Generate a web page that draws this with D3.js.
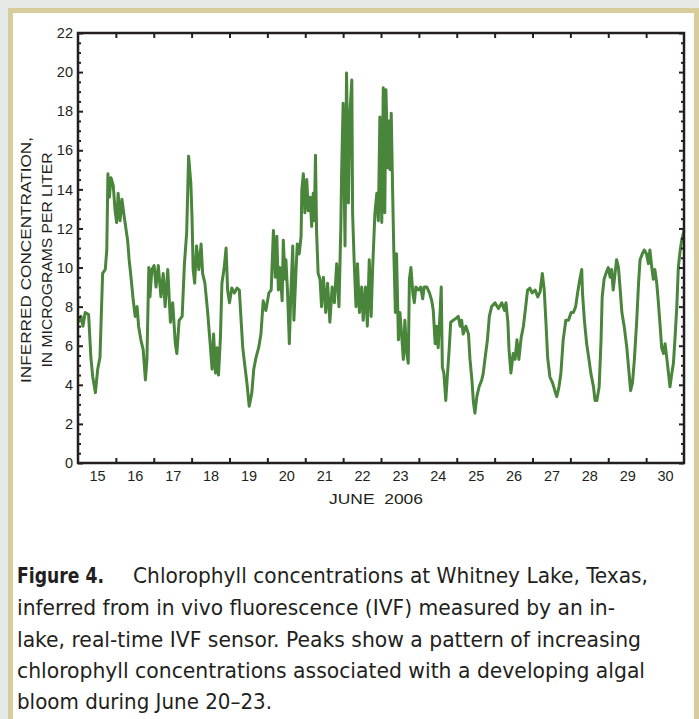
<!DOCTYPE html>
<html>
<head>
<meta charset="utf-8">
<script src="https://cdn.jsdelivr.net/npm/d3@7"></script>
<style>
  html, body { margin: 0; padding: 0; background: #e5eae6; }
  svg { display: block; }
</style>
</head>
<body>
<div id="viewPanel"></div>
<script>
// June 2006 day (decimal, 15.0 = June 15 00:00) and chlorophyll, in micrograms per liter
const days = [
  15.02, 15.08, 15.13, 15.19, 15.28, 15.34, 15.39, 15.46, 15.52, 15.58, 15.65, 15.72, 15.76, 15.79, 15.83, 15.87,
  15.93, 15.98, 16.02, 16.06, 16.11, 16.16, 16.22, 16.31, 16.35, 16.40, 16.46, 16.51, 16.56, 16.60, 16.66, 16.72,
  16.78, 16.82, 16.87, 16.90, 16.95, 17.01, 17.06, 17.12, 17.19, 17.25, 17.30, 17.37, 17.44, 17.50, 17.57, 17.61,
  17.67, 17.75, 17.81, 17.87, 17.92, 17.98, 18.01, 18.04, 18.08, 18.13, 18.19, 18.25, 18.29, 18.35, 18.42, 18.49,
  18.54, 18.58, 18.63, 18.67, 18.71, 18.76, 18.80, 18.86, 18.91, 18.95, 19.00, 19.06, 19.13, 19.20, 19.26, 19.30,
  19.35, 19.41, 19.46, 19.52, 19.59, 19.64, 19.70, 19.77, 19.83, 19.89, 19.96, 20.04, 20.10, 20.16, 20.21, 20.25,
  20.29, 20.33, 20.39, 20.42, 20.47, 20.49, 20.53, 20.58, 20.62, 20.67, 20.70, 20.76, 20.79, 20.84, 20.89, 20.91,
  20.95, 20.99, 21.04, 21.08, 21.13, 21.17, 21.21, 21.24, 21.27, 21.30, 21.34, 21.39, 21.43, 21.48, 21.54, 21.59,
  21.65, 21.71, 21.77, 21.83, 21.89, 21.94, 21.96, 22.00, 22.05, 22.09, 22.14, 22.18, 22.23, 22.25, 22.29, 22.34,
  22.38, 22.43, 22.49, 22.53, 22.59, 22.64, 22.69, 22.74, 22.78, 22.84, 22.89, 22.93, 22.97, 23.02, 23.06, 23.10,
  23.13, 23.18, 23.21, 23.24, 23.27, 23.31, 23.34, 23.38, 23.41, 23.46, 23.50, 23.55, 23.59, 23.63, 23.68, 23.72,
  23.75, 23.79, 23.84, 23.88, 23.92, 23.99, 24.05, 24.10, 24.14, 24.21, 24.28, 24.34, 24.38, 24.43, 24.47, 24.51,
  24.56, 24.59, 24.62, 24.66, 24.71, 24.75, 24.80, 24.84, 24.91, 24.98, 25.04, 25.09, 25.13, 25.17, 25.24, 25.31,
  25.35, 25.40, 25.44, 25.48, 25.53, 25.59, 25.66, 25.70, 25.75, 25.81, 25.86, 25.92, 26.01, 26.10, 26.19, 26.26,
  26.30, 26.35, 26.38, 26.43, 26.49, 26.54, 26.59, 26.64, 26.70, 26.76, 26.82, 26.87, 26.93, 26.99, 27.07, 27.14,
  27.20, 27.26, 27.31, 27.36, 27.40, 27.46, 27.53, 27.59, 27.64, 27.70, 27.75, 27.81, 27.88, 27.95, 28.02, 28.08,
  28.14, 28.19, 28.25, 28.30, 28.32, 28.37, 28.43, 28.49, 28.54, 28.61, 28.65, 28.70, 28.76, 28.81, 28.84, 28.89,
  28.94, 29.00, 29.05, 29.09, 29.13, 29.18, 29.22, 29.27, 29.31, 29.36, 29.42, 29.49, 29.55, 29.59, 29.64, 29.69,
  29.75, 29.80, 29.84, 29.90, 29.95, 30.01, 30.06, 30.10, 30.15, 30.19, 30.23, 30.28, 30.32, 30.37, 30.41, 30.46,
  30.50, 30.55, 30.59, 30.63, 30.68, 30.72, 30.76, 30.81, 30.85, 30.90, 30.94, 31.00
];
const chl = [
  7.2, 7.5, 7.0, 7.7, 7.6, 5.4, 4.4, 3.6, 4.8, 5.4, 9.7, 9.9, 10.9, 14.8, 13.6, 14.6,
  14.2, 12.9, 12.3, 13.8, 12.4, 13.5, 12.6, 11.4, 10.4, 9.5, 8.3, 7.5, 8.0, 7.0, 6.3, 5.8,
  4.25, 5.3, 10.0, 8.5, 9.9, 10.1, 9.0, 10.1, 8.5, 9.7, 8.0, 9.9, 7.2, 8.2, 6.1, 5.6,
  7.3, 7.5, 10.2, 11.8, 15.7, 14.3, 12.6, 9.9, 9.2, 11.1, 9.9, 11.2, 9.7, 9.2, 7.8, 6.1,
  4.8, 6.6, 4.6, 5.9, 4.5, 6.4, 9.2, 10.0, 11.0, 8.85, 8.2, 8.95, 8.7, 8.95, 8.85, 7.5,
  5.9, 4.9, 4.1, 2.9, 3.6, 4.8, 5.4, 5.9, 6.6, 8.3, 7.8, 8.7, 8.85, 11.9, 9.5, 11.6,
  8.85, 10.0, 8.3, 11.4, 9.4, 10.4, 8.85, 6.1, 8.7, 11.1, 7.3, 10.0, 11.2, 10.7, 11.6, 14.0,
  14.8, 12.8, 14.5, 12.9, 13.6, 12.1, 13.8, 12.4, 15.75, 11.8, 9.7, 9.4, 8.0, 9.5, 7.7, 9.2,
  7.2, 9.0, 8.2, 10.2, 8.0, 12.1, 14.8, 18.4, 11.1, 19.95, 13.3, 17.9, 19.6, 12.8, 10.4, 8.0,
  10.2, 7.7, 9.0, 7.3, 9.0, 7.0, 10.4, 7.5, 10.0, 12.8, 13.8, 12.4, 17.7, 12.3, 19.2, 12.8,
  19.1, 15.1, 17.5, 15.0, 17.9, 13.6, 10.7, 7.7, 10.7, 6.3, 7.7, 6.4, 5.3, 7.3, 5.6, 5.1,
  9.4, 10.0, 8.7, 8.2, 9.0, 8.85, 9.0, 8.4, 9.0, 9.0, 8.7, 8.3, 7.8, 6.1, 7.0, 5.9,
  7.7, 9.0, 4.9, 4.6, 3.2, 4.4, 5.8, 7.2, 7.3, 7.4, 7.5, 7.0, 7.3, 6.6, 7.0, 6.6,
  5.3, 4.25, 3.1, 2.55, 3.4, 3.9, 4.25, 4.6, 5.4, 6.3, 7.5, 8.0, 8.2, 7.9, 8.2, 7.8,
  8.2, 7.2, 5.8, 4.6, 5.6, 5.3, 6.3, 5.3, 6.4, 7.0, 8.0, 8.85, 8.95, 8.7, 8.85, 8.5,
  8.75, 9.7, 8.85, 7.0, 5.4, 4.4, 4.1, 3.7, 3.4, 3.9, 4.6, 6.3, 7.3, 7.3, 7.7, 7.7,
  8.0, 8.7, 9.4, 9.9, 8.7, 7.3, 6.1, 5.3, 4.6, 3.9, 3.2, 3.2, 3.9, 6.3, 8.5, 9.4,
  9.7, 10.0, 9.5, 9.9, 8.85, 9.7, 10.4, 10.0, 9.0, 7.7, 7.0, 5.9, 4.6, 3.7, 4.1, 5.3,
  7.2, 9.2, 10.4, 10.7, 10.9, 10.7, 10.2, 10.9, 10.0, 9.4, 9.9, 9.2, 8.3, 7.0, 5.9, 5.6,
  6.1, 5.3, 4.6, 3.9, 4.6, 5.1, 6.3, 8.0, 10.0, 10.9, 11.4, 11.9
];
const dayTicks = [16, 17, 18, 19, 20, 21, 22, 23, 24, 25, 26, 27, 28, 29, 30];
const dayLabels = ["15", "16", "17", "18", "19", "20", "21", "22", "23", "24", "25", "26", "27", "28", "29", "30"];
const yMajor = [0, 2, 4, 6, 8, 10, 12, 14, 16, 18, 20, 22];
const yLabelLines = ["INFERRED CONCENTRATION,", "IN MICROGRAMS PER LITER"];
const captionBold = "Figure 4.";
const captionLines = [
  "Chlorophyll concentrations at Whitney Lake, Texas,",
  "inferred from in vivo fluorescence (IVF) measured by an in-",
  "lake, real-time IVF sensor. Peaks show a pattern of increasing",
  "chlorophyll concentrations associated with a developing algal",
  "bloom during June 20\u201323."
];

const width = 699;
const height = 719;
const ink = '#231f20';
const lineColor = '#4a853c';
const plot = { left: 78, right: 684, top: 33, bottom: 463 };

const svg = d3.select('#viewPanel')
    .append('svg')
    .attr('width', width)
    .attr('height', height);

// panel with tan border
svg.append('rect')
    .attr('x', 10.5).attr('y', 10.5)
    .attr('width', 686).attr('height', 720)
    .attr('fill', '#ffffff')
    .attr('stroke', '#d8cd9a')
    .attr('stroke-width', 5);

const x = d3.scaleLinear().domain([15, 31]).range([plot.left, plot.right]);
const y = d3.scaleLinear().domain([0, 22]).range([plot.bottom, plot.top]);

const minorY = d3.range(0, 22.01, 0.5).filter(v => v % 2 !== 0);

const fontAxis = '"Liberation Sans", Arial, sans-serif';

function styleAxis(g) {
    g.select('.domain').remove();
    g.selectAll('line').attr('stroke', ink).attr('stroke-width', 2);
    g.selectAll('text').attr('fill', ink).attr('font-family', fontAxis).attr('font-size', 14.5);
}

// data line (under the frame)
const line = d3.line()
    .x((d, i) => x(days[i]))
    .y(d => y(d));

svg.append('path')
    .datum(chl)
    .attr('fill', 'none')
    .attr('stroke', lineColor)
    .attr('stroke-width', 3)
    .attr('stroke-linejoin', 'round')
    .attr('d', line);

// left axis
svg.append('g')
    .attr('transform', `translate(${plot.left},0)`)
    .call(d3.axisLeft(y).tickValues(yMajor).tickSize(-5).tickPadding(5).tickFormat(d3.format('d')))
    .call(styleAxis);
svg.append('g')
    .attr('transform', `translate(${plot.left},0)`)
    .call(d3.axisLeft(y).tickValues(minorY).tickSize(-3).tickFormat(''))
    .call(styleAxis);

// right axis
svg.append('g')
    .attr('transform', `translate(${plot.right},0)`)
    .call(d3.axisRight(y).tickValues(yMajor).tickSize(-5).tickFormat(''))
    .call(styleAxis);
svg.append('g')
    .attr('transform', `translate(${plot.right},0)`)
    .call(d3.axisRight(y).tickValues(minorY).tickSize(-3).tickFormat(''))
    .call(styleAxis);

// bottom and top ticks at midnight
svg.append('g')
    .attr('transform', `translate(0,${plot.bottom})`)
    .call(d3.axisBottom(x).tickValues(dayTicks).tickSize(-5).tickFormat(''))
    .call(styleAxis);
svg.append('g')
    .attr('transform', `translate(0,${plot.top})`)
    .call(d3.axisTop(x).tickValues(dayTicks).tickSize(-5).tickFormat(''))
    .call(styleAxis);

// day labels at noon
svg.append('g')
    .attr('transform', `translate(0,${plot.bottom})`)
    .call(d3.axisBottom(x)
        .tickValues(dayLabels.map(d => +d + 0.5))
        .tickSize(0).tickPadding(8)
        .tickFormat((d, i) => dayLabels[i]))
    .call(styleAxis);

// frame
svg.append('rect')
    .attr('x', plot.left).attr('y', plot.top)
    .attr('width', plot.right - plot.left)
    .attr('height', plot.bottom - plot.top)
    .attr('fill', 'none')
    .attr('stroke', ink)
    .attr('stroke-width', 2.5);

svg.append('text')
    .attr('x', 376).attr('y', 504)
    .attr('text-anchor', 'middle')
    .attr('fill', ink)
    .attr('font-family', fontAxis)
    .attr('font-size', 15)
    .attr('textLength', 94)
    .attr('lengthAdjust', 'spacingAndGlyphs')
    .attr('xml:space', 'preserve')
    .text('JUNE  2006');

// y axis title, two rotated lines
const yTitle = svg.append('g').attr('transform', 'translate(0,260) rotate(-90)');
yTitle.selectAll('text')
    .data(yLabelLines)
    .join('text')
    .attr('x', 0)
    .attr('y', (d, i) => [30.5, 52][i])
    .attr('text-anchor', 'middle')
    .attr('fill', ink)
    .attr('font-family', fontAxis)
    .attr('font-size', 15.5)
    .attr('textLength', (d, i) => [246, 215][i])
    .attr('lengthAdjust', 'spacingAndGlyphs')
    .text(d => d);

// caption
const capFont = '"Liberation Sans Narrow", "DejaVu Sans Condensed", "Roboto", sans-serif';
const capBase = [583, 615, 647, 678, 709];
const capStart = [133, 17, 17, 17, 17];
const capEnd = [648, 615, 641, 645, 272];

svg.append('text')
    .attr('x', 17).attr('y', capBase[0])
    .attr('fill', ink)
    .attr('font-family', capFont)
    .attr('font-weight', 'bold')
    .attr('font-size', 22)
    .attr('textLength', 87)
    .attr('lengthAdjust', 'spacingAndGlyphs')
    .text(captionBold);

svg.append('g').selectAll('text')
    .data(captionLines)
    .join('text')
    .attr('x', (d, i) => capStart[i])
    .attr('y', (d, i) => capBase[i])
    .attr('fill', ink)
    .attr('font-family', capFont)
    .attr('font-size', 22)
    .attr('textLength', (d, i) => capEnd[i] - capStart[i])
    .attr('lengthAdjust', 'spacingAndGlyphs')
    .text(d => d);
</script>
</body>
</html>
